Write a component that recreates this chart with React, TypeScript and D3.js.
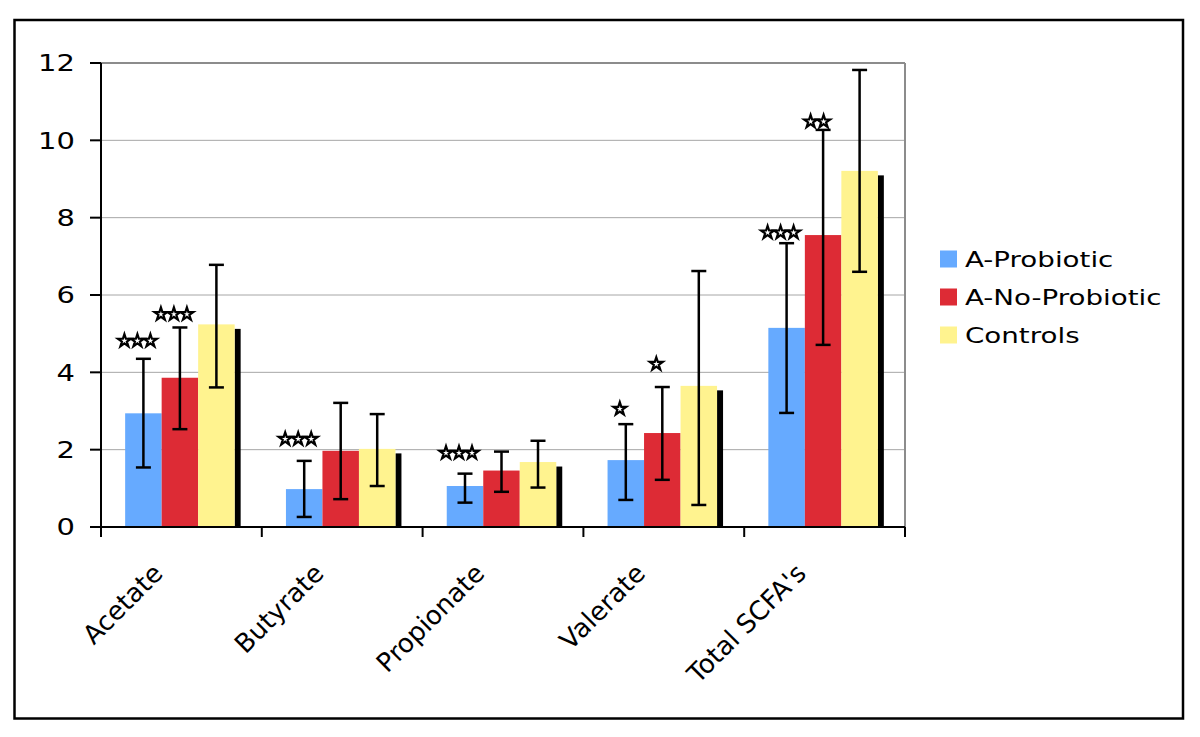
import React from "react";
import * as d3 from "d3";

const categories = ["Acetate", "Butyrate", "Propionate", "Valerate", "Total SCFA's"];
const seriesNames = ["A-Probiotic", "A-No-Probiotic", "Controls"];
const colors = ["#66aaff", "#dd2b35", "#fff38f"];

const probioticMean = [2.94, 0.98, 1.06, 1.73, 5.15];
const probioticErrLo = [1.54, 0.26, 0.63, 0.7, 2.95];
const probioticErrHi = [4.35, 1.71, 1.38, 2.66, 7.34];

const noProbioticMean = [3.86, 1.97, 1.46, 2.43, 7.55];
const noProbioticErrLo = [2.53, 0.72, 0.91, 1.22, 4.71];
const noProbioticErrHi = [5.16, 3.21, 1.95, 3.62, 10.27];

const controlsMean = [5.24, 2.02, 1.68, 3.65, 9.21];
const controlsErrLo = [3.61, 1.06, 1.02, 0.57, 6.6];
const controlsErrHi = [6.78, 2.92, 2.23, 6.62, 11.82];

const yTicks = [0, 2, 4, 6, 8, 10, 12];

// significance annotations: category index, series index, number of stars, y value where placed
const starCategory = [0, 0, 1, 2, 3, 3, 4, 4];
const starSeries = [0, 1, 0, 0, 0, 1, 0, 1];
const starCount = [3, 3, 3, 3, 1, 1, 3, 2];
const starY = [4.84, 5.53, 2.3, 1.94, 3.08, 4.24, 7.64, 10.51];

const means = [probioticMean, noProbioticMean, controlsMean];
const errLo = [probioticErrLo, noProbioticErrLo, controlsErrLo];
const errHi = [probioticErrHi, noProbioticErrHi, controlsErrHi];

export default function App() {
  const W = 1200, H = 737;
  const left = 101, right = 905, top = 63, bottom = 527;
  const font = "'DejaVu Sans', Verdana, sans-serif";
  const sx = 1.26;

  const x0 = d3.scaleBand<string>().domain(categories).range([left, right]).paddingInner(0).paddingOuter(0);
  const bw = 36.5;
  const groupW = bw * 3;
  const y = d3.scaleLinear().domain([0, 12]).range([bottom, top]);
  const x1 = d3.scaleBand<number>().domain([0, 1, 2]).range([0, groupW]).padding(0);
  const groupStart = (c: string) => (x0(c) as number) + (x0.bandwidth() - groupW) / 2 - 1.5;
  const starPath = d3.symbol().type(d3.symbolStar).size(52)() as string;

  return (
    <svg width={W} height={H} style={{ display: "block", position: "absolute", left: 0, top: 0 }}>
      <rect x={0} y={0} width={W} height={H} fill="#fff" />
      <rect x={14.5} y={20} width={1168.5} height={698.5} fill="none" stroke="#000" strokeWidth={2.5} />

      {/* gridlines */}
      {yTicks.filter((t) => t > 0 && t < 12).map((t) => (
        <line key={t} x1={left} x2={right} y1={y(t)} y2={y(t)} stroke="#a6a6a6" strokeWidth={1} />
      ))}
      {/* plot border top/right */}
      <line x1={left} x2={right} y1={top} y2={top} stroke="#8c8c8c" strokeWidth={2} />
      <line x1={right} x2={right} y1={top} y2={bottom} stroke="#8c8c8c" strokeWidth={2} />

      {/* bars */}
      {categories.map((c, ci) => {
        const gs = groupStart(c);
        return (
          <g key={c}>
            <rect
              x={gs + groupW}
              y={y(means[2][ci]) + 4.5}
              width={6}
              height={bottom - y(means[2][ci]) - 4.5}
              fill="#000"
            />
            {[0, 1, 2].map((si) => (
              <rect
                key={si}
                x={gs + (x1(si) as number)}
                y={y(means[si][ci])}
                width={x1.bandwidth()}
                height={bottom - y(means[si][ci])}
                fill={colors[si]}
              />
            ))}
            {[0, 1, 2].map((si) => {
              const cx = gs + (x1(si) as number) + x1.bandwidth() / 2;
              return (
                <g key={"e" + si} stroke="#000" strokeWidth={2.5}>
                  <line x1={cx} x2={cx} y1={y(errHi[si][ci])} y2={y(errLo[si][ci])} />
                  <line x1={cx - 7.5} x2={cx + 7.5} y1={y(errHi[si][ci])} y2={y(errHi[si][ci])} />
                  <line x1={cx - 7.5} x2={cx + 7.5} y1={y(errLo[si][ci])} y2={y(errLo[si][ci])} />
                </g>
              );
            })}
          </g>
        );
      })}

      {/* stars */}
      {starCategory.map((ci, k) => {
        const c = categories[ci];
        const cx = groupStart(c) + (x1(starSeries[k]) as number) + x1.bandwidth() / 2 - 6;
        const n = starCount[k];
        const sp = 13;
        return (
          <g key={"s" + k}>
            {d3.range(n).map((j) => (
              <path
                key={j}
                d={starPath}
                transform={`translate(${cx + (j - (n - 1) / 2) * sp},${y(starY[k]) + 1})`}
                fill="#fff"
                stroke="#000"
                strokeWidth={2.2}
                strokeLinejoin="miter"
              />
            ))}
          </g>
        );
      })}

      {/* axes */}
      <line x1={left} x2={left} y1={top} y2={bottom} stroke="#000" strokeWidth={2} />
      <line x1={left} x2={right} y1={bottom} y2={bottom} stroke="#000" strokeWidth={2} />
      {yTicks.map((t) => (
        <g key={"yt" + t}>
          <line x1={left - 11} x2={left} y1={y(t)} y2={y(t)} stroke="#000" strokeWidth={2} />
          <text
            transform={`translate(75,${y(t)}) scale(${sx},1)`}
            dy="0.36em"
            textAnchor="end"
            fontFamily={font}
            fontSize={23}
            fill="#000"
          >
            {t}
          </text>
        </g>
      ))}
      {d3.range(categories.length + 1).map((i) => {
        const xx = left + i * x0.bandwidth();
        return <line key={"xt" + i} x1={xx} x2={xx} y1={bottom} y2={bottom + 10} stroke="#000" strokeWidth={2} />;
      })}
      {categories.map((c) => {
        const cx = (x0(c) as number) + x0.bandwidth() / 2;
        const ax = cx - 17;
        const ay = 575;
        return (
          <text
            key={"cl" + c}
            textAnchor="end"
            transform={`translate(${ax},${ay}) rotate(-45)`}
            fontFamily={font}
            fontSize={26}
            fill="#000"
          >
            {c}
          </text>
        );
      })}

      {/* legend */}
      {seriesNames.map((s, i) => (
        <g key={s} transform={`translate(940,${259 + i * 38})`}>
          <rect x={0} y={-8.5} width={17} height={17} fill={colors[i]} />
          <text
            transform={`translate(25,0) scale(${sx},1)`}
            dy="0.36em"
            fontFamily={font}
            fontSize={22}
            fill="#000"
          >
            {s}
          </text>
        </g>
      ))}
    </svg>
  );
}
